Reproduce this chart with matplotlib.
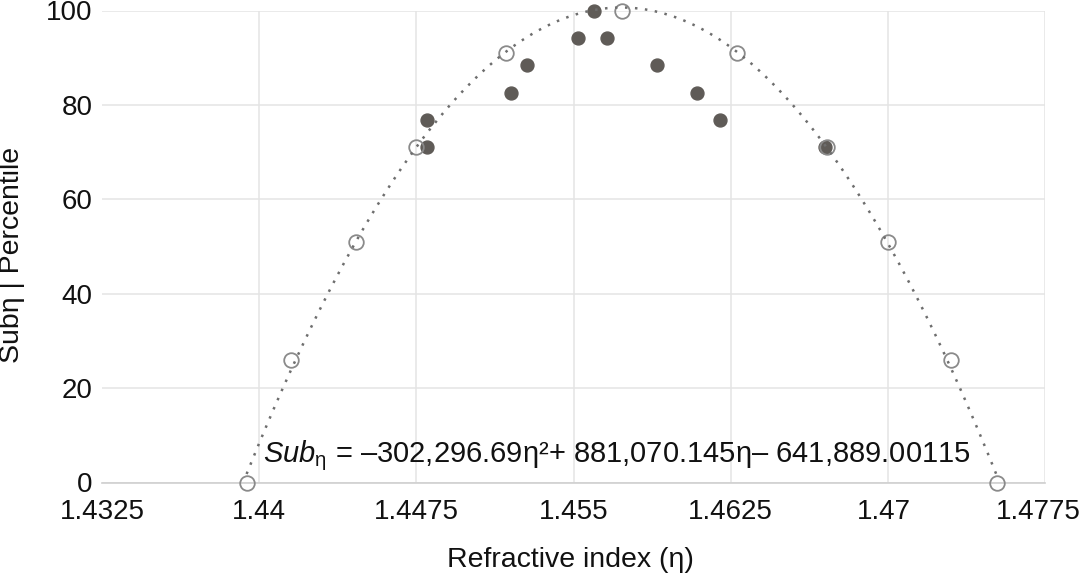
import numpy as np
import matplotlib
matplotlib.use("Agg")
import matplotlib.pyplot as plt
from matplotlib.transforms import ScaledTranslation

plt.rcParams['font.family'] = ['Liberation Sans', 'DejaVu Sans']
plt.rcParams['mathtext.fontset'] = 'custom'
plt.rcParams['mathtext.rm'] = 'Liberation Sans'
plt.rcParams['mathtext.it'] = 'Liberation Sans:italic'

# Measured sample points (filled)
meas_eta = [1.4480, 1.4480, 1.4520, 1.4528, 1.4552, 1.4560, 1.4566, 1.4590, 1.4609, 1.4620, 1.4670]
meas_pct = [76.7, 71.0, 82.6, 88.4, 94.1, 100.0, 94.1, 88.4, 82.6, 76.7, 71.0]

# Sub-eta percentile points on the fitted curve (open)
fit_eta = [1.4394, 1.4415, 1.4446, 1.4475, 1.4518, 1.4573, 1.4628, 1.4671, 1.4700, 1.4730, 1.4752]
fit_pct = [0, 26, 51, 71, 91, 100, 91, 71, 51, 26, 0]

equation_text = r'$\mathit{Sub}_{\mathrm{η}}$' + ' = –302,296.69η²+ 881,070.145η– 641,889.00115'

x_ticks = [1.4325, 1.44, 1.4475, 1.455, 1.4625, 1.47, 1.4775]
x_tick_labels = ['1.4325', '1.44', '1.4475', '1.455', '1.4625', '1.47', '1.4775']
y_ticks = [0, 20, 40, 60, 80, 100]

fig = plt.figure(figsize=(10.82, 5.75), dpi=100)
ax = fig.add_axes([102.0 / 1082, (575 - 482.5) / 575, (1045 - 102.0) / 1082, (482.5 - 10.5) / 575])

ax.set_xlim(1.4325, 1.4775)
ax.set_ylim(0, 100)
ax.set_xticks(x_ticks)
ax.set_xticklabels(x_tick_labels)
ax.set_yticks(y_ticks)

for s in ['top', 'right', 'left']:
    ax.spines[s].set_visible(False)
ax.spines['bottom'].set_color('#cfcfcf')
ax.spines['bottom'].set_linewidth(1.2)

ax.grid(True, color='#e4e4e4', linewidth=1.1, zorder=0)
ax.set_axisbelow(True)
ax.xaxis.get_gridlines()[0].set_visible(False)

ax.tick_params(axis='both', length=0, labelsize=20, colors='#111111')
ax.tick_params(axis='x', pad=12)
ax.tick_params(axis='y', pad=7)

# shift the outer tick labels slightly inward as in the reference
labs = ax.get_xticklabels()
labs[-1].set_transform(labs[-1].get_transform() + ScaledTranslation(-7 / 100, 0, fig.dpi_scale_trans))
labs[-2].set_transform(labs[-2].get_transform() + ScaledTranslation(-4 / 100, 0, fig.dpi_scale_trans))

# measured points
ax.plot(meas_eta, meas_pct, linestyle='none', marker='o', markersize=9.3,
        markerfacecolor='#5f5b57', markeredgecolor='#5f5b57', zorder=3, clip_on=False)
# fit points
ax.plot(fit_eta, fit_pct, linestyle='none', marker='o', markersize=10.5,
        markerfacecolor='none', markeredgecolor='#8a8a8a', markeredgewidth=1.3, zorder=4, clip_on=False)

# quadratic trendline through the open points
coef = np.polyfit(fit_eta, fit_pct, 2)
xs = np.linspace(min(fit_eta), max(fit_eta), 600)
ax.plot(xs, np.polyval(coef, xs), linestyle=(0, (1, 3)), linewidth=1.8,
        color='#6e6e6e', zorder=5, clip_on=False)

ax.text(1.44018, 4.4, equation_text,
        fontsize=21, color='#111111', ha='left', va='baseline', zorder=6)

ax.set_xlabel('Refractive index (η)', fontsize=20.5, color='#111111', va='center')
ax.xaxis.set_label_coords(0.497, -0.165)
ax.set_ylabel('Subη | Percentile', fontsize=20.5, color='#111111', va='center', ha='center')
ax.yaxis.set_label_coords(-0.095, 0.483)

fig.savefig('out.png', dpi=100)
